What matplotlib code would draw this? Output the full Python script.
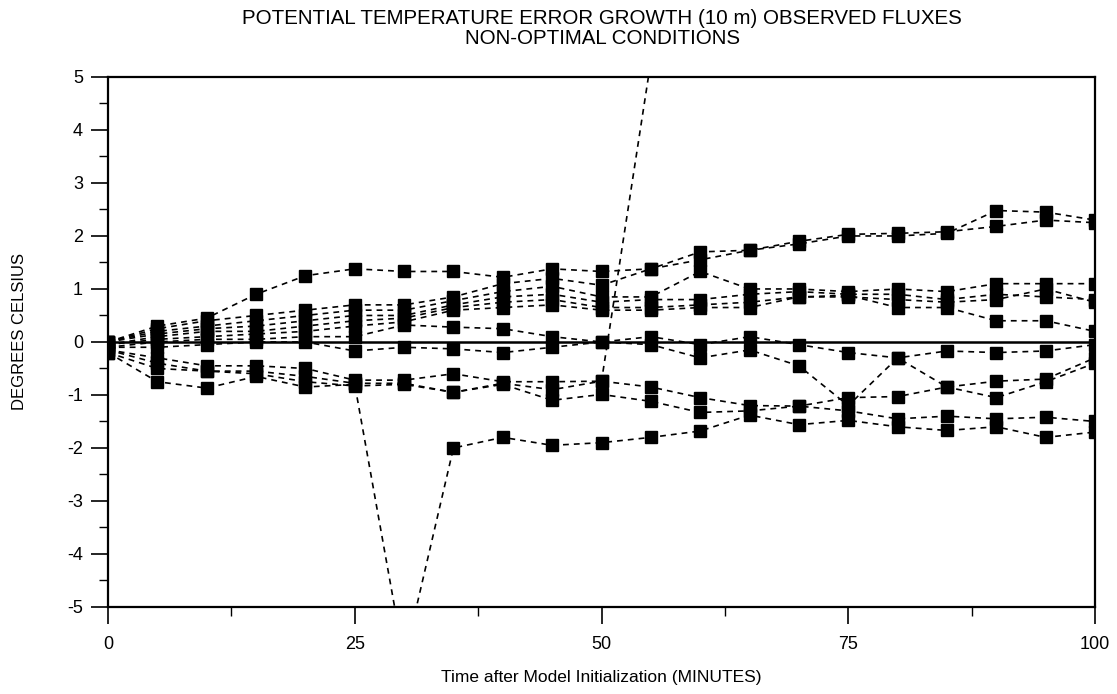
import matplotlib.pyplot as plt
from matplotlib.ticker import MultipleLocator

plt.rcParams['font.family'] = ['Liberation Sans', 'DejaVu Sans']
plt.rcParams['axes.unicode_minus'] = False

minutes = [0, 5, 10, 15, 20, 25, 30, 35, 40, 45, 50,
           55, 60, 65, 70, 75, 80, 85, 90, 95, 100]

# error growth per experiment, degrees C
run1 = [0, 0.30, 0.45, 0.90, 1.25, 1.38, 1.33, 1.33, 1.22, 1.38, 1.33,
        1.38, 1.70, 1.73, 1.90, 2.03, 2.05, 2.08, 2.18, 2.30, 2.25]
run2 = [0, 0.25, 0.40, 0.50, 0.60, 0.70, 0.70, 0.85, 1.10, 1.20, 1.07,
        1.38, 1.55, 1.73, 1.85, 2.00, 2.00, 2.05, 2.48, 2.45, 2.30]
run3 = [0, 0.20, 0.30, 0.40, 0.50, 0.60, 0.60, 0.78, 0.95, 1.05, 0.85,
        0.85, 1.33, 1.00, 1.00, 0.95, 1.00, 0.95, 1.10, 1.10, 1.10]
run4 = [0, 0.15, 0.25, 0.30, 0.40, 0.50, 0.50, 0.70, 0.85, 0.90, 0.75,
        0.80, 0.80, 0.90, 0.95, 0.90, 0.90, 0.80, 0.90, 0.85, 0.80]
run5 = [-0.05, 0.10, 0.20, 0.20, 0.30, 0.40, 0.45, 0.65, 0.75, 0.80, 0.65,
        0.65, 0.70, 0.75, 0.85, 0.85, 0.80, 0.75, 0.80, 1.00, 0.75]
run6 = [-0.05, 0.05, 0.10, 0.15, 0.20, 0.30, 0.38, 0.60, 0.65, 0.70, 0.60,
        0.60, 0.65, 0.65, 0.85, 0.88, 0.65, 0.65, 0.40, 0.40, 0.20]
run7 = [-0.10, 0.00, 0.05, 0.05, 0.10, 0.10, 0.32, 0.28, 0.25, 0.10, 0.00,
        0.10, -0.05, 0.10, -0.05, -0.20, -0.30, -0.17, -0.20, -0.17, -0.05]
run8 = [-0.10, -0.10, -0.05, 0.00, 0.00, -0.17, -0.10, -0.13, -0.20, -0.10, 0.00,
        -0.05, -0.30, -0.15, -0.45, -1.20, -0.30, -0.85, -0.74, -0.70, -0.30]
run9 = [-0.15, -0.30, -0.45, -0.45, -0.50, -0.72, -0.72, -0.60, -0.75, -0.75, -0.74,
        -0.85, -1.05, -1.20, -1.21, -1.05, -1.03, -0.85, -1.05, -0.75, -0.40]
run10 = [-0.15, -0.40, -0.55, -0.55, -0.65, -0.78, -0.78, -0.95, -0.80, -1.10, -0.99,
         -1.12, -1.33, -1.30, -1.21, -1.30, -1.45, -1.40, -1.45, -1.42, -1.50]
run11 = [-0.20, -0.75, -0.87, -0.65, -0.85, -0.80, -6.00, -2.00, -1.80, -1.95, -1.90,
         -1.80, -1.68, -1.38, -1.56, -1.48, -1.60, -1.67, -1.60, -1.80, -1.70]
# this one blows up after 50 minutes
run12_t = [0, 5, 10, 15, 20, 25, 30, 35, 40, 45, 50, 55]
run12 = [-0.20, -0.50, -0.55, -0.60, -0.75, -0.83, -0.80, -0.95, -0.78, -0.90, -0.74, 5.30]

runs = [run1, run2, run3, run4, run5, run6, run7, run8, run9, run10, run11]

fig = plt.figure(figsize=(11.17, 6.94), dpi=100)
ax = fig.add_axes([0.0967, 0.1254, 0.8836, 0.7637])

style = dict(color='black', linestyle=(0, (3.5, 3)), linewidth=1.2,
             marker='s', markersize=8.5, markerfacecolor='black',
             markeredgecolor='black')
for r in runs:
    ax.plot(minutes, r, **style)
ax.plot(run12_t, run12, **style)

ax.axhline(0, color='black', linewidth=1.8, zorder=1)

ax.set_xlim(0, 100)
ax.set_ylim(-5, 5)
ax.xaxis.set_major_locator(MultipleLocator(25))
ax.xaxis.set_minor_locator(MultipleLocator(12.5))
ax.yaxis.set_major_locator(MultipleLocator(1))
ax.yaxis.set_minor_locator(MultipleLocator(0.5))
ax.tick_params(which='major', direction='out', length=12, width=1.2,
               labelsize=13, top=False, right=False)
ax.tick_params(axis='x', which='major', pad=9)
ax.tick_params(axis='y', which='major', pad=6)
ax.tick_params(which='minor', direction='out', length=6.5, width=1.0,
               top=False, right=False)
for s in ax.spines.values():
    s.set_linewidth(1.6)

ax.set_xlabel('Time after Model Initialization (MINUTES)', fontsize=12.5)
ax.xaxis.set_label_coords(0.5, -0.134)
ax.xaxis.label.set_va('center')
ax.set_ylabel('DEGREES CELSIUS', fontsize=12)
ax.yaxis.set_label_coords(-0.09, 0.52)
ax.yaxis.label.set_va('center')

fig.text(0.539, 1 - 18 / 694, 'POTENTIAL TEMPERATURE ERROR GROWTH (10 m) OBSERVED FLUXES',
         ha='center', va='center', fontsize=14.8)
fig.text(0.539, 1 - 39 / 694, 'NON-OPTIMAL CONDITIONS',
         ha='center', va='center', fontsize=14.8)

fig.savefig('out.png', dpi=100)
